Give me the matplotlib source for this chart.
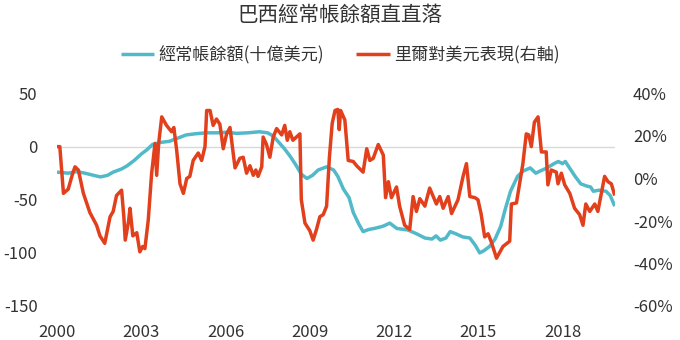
import matplotlib
matplotlib.use("Agg")
import matplotlib.pyplot as plt
from matplotlib.ticker import FuncFormatter

plt.rcParams['font.family'] = ['Noto Sans CJK TC', 'DejaVu Sans']
plt.rcParams['axes.unicode_minus'] = False

TITLE = "巴西經常帳餘額直直落"
LABEL_CA = "經常帳餘額(十億美元)"
LABEL_BRL = "里爾對美元表現(右軸)"

# current account balance, billion USD (left axis)
ca_t = [2000.0, 2000.4, 2000.7, 2001.0, 2001.3, 2001.55, 2001.8, 2002.0, 2002.3, 2002.5,
        2002.75, 2003.0, 2003.2, 2003.4, 2003.7, 2004.0, 2004.3, 2004.6, 2004.9, 2005.3,
        2005.7, 2006.0, 2006.4, 2006.8, 2007.2, 2007.5, 2007.7, 2007.9, 2008.1, 2008.3,
        2008.5, 2008.7, 2008.9, 2009.1, 2009.3, 2009.6, 2009.85, 2010.0, 2010.2, 2010.4,
        2010.55, 2010.75, 2010.9, 2011.1, 2011.3, 2011.6, 2011.85, 2012.1, 2012.5, 2012.8,
        2013.1, 2013.35, 2013.5, 2013.65, 2013.85, 2014.0, 2014.2, 2014.45, 2014.7, 2014.9,
        2015.05, 2015.2, 2015.4, 2015.6, 2015.8, 2015.95, 2016.15, 2016.4, 2016.6, 2016.85,
        2017.05, 2017.2, 2017.45, 2017.7, 2017.85, 2018.0, 2018.1, 2018.25, 2018.45, 2018.65,
        2018.85, 2019.0, 2019.1, 2019.3, 2019.55, 2019.7, 2019.86]
ca_val = [-24, -25, -23.5, -25, -27, -28.5, -27, -24, -21, -18,
          -13, -7, -3, 2, 4, 5, 8, 11, 12, 13,
          13, 13.5, 12.5, 13, 14, 13, 10, 4, -2, -9,
          -17, -26, -30, -27, -22, -19, -22, -28, -40, -48,
          -62, -73, -80, -78, -77, -75, -72, -77, -78.5, -82,
          -86, -87, -84, -88, -86, -80, -82, -85, -86, -93,
          -100, -98, -94, -87, -75, -60, -42, -28, -23, -20,
          -25, -23, -20, -16, -14, -16, -14, -20, -28, -35,
          -37, -38, -42, -41, -42, -46, -56]

# BRL vs USD performance, % (right axis)
brl_t = [2000.0, 2000.1, 2000.23, 2000.4, 2000.55, 2000.64, 2000.76, 2000.94, 2001.17, 2001.29,
         2001.41, 2001.53, 2001.7, 2001.89, 2002.0, 2002.12, 2002.3, 2002.38, 2002.43, 2002.55,
         2002.6, 2002.7, 2002.84, 2002.95, 2003.05, 2003.13, 2003.25, 2003.37, 2003.49, 2003.55,
         2003.62, 2003.73, 2003.9, 2004.08, 2004.16, 2004.26, 2004.38, 2004.5, 2004.62, 2004.73,
         2004.85, 2005.03, 2005.15, 2005.27, 2005.33, 2005.45, 2005.56, 2005.68, 2005.8, 2005.92,
         2006.04, 2006.16, 2006.34, 2006.51, 2006.63, 2006.75, 2006.87, 2006.99, 2007.08, 2007.16,
         2007.29, 2007.34, 2007.46, 2007.58, 2007.7, 2007.82, 2008.0, 2008.11, 2008.2, 2008.29,
         2008.4, 2008.65, 2008.7, 2008.83, 2009.0, 2009.12, 2009.24, 2009.36, 2009.48, 2009.6,
         2009.7, 2009.8, 2009.9, 2010.0, 2010.05, 2010.1, 2010.25, 2010.37, 2010.55, 2010.67,
         2010.9, 2011.03, 2011.14, 2011.26, 2011.44, 2011.62, 2011.7, 2011.8, 2011.91, 2012.09,
         2012.2, 2012.38, 2012.56, 2012.68, 2012.8, 2012.92, 2013.1, 2013.27, 2013.51, 2013.63,
         2013.75, 2013.93, 2014.05, 2014.28, 2014.46, 2014.58, 2014.7, 2014.88, 2014.99, 2015.1,
         2015.23, 2015.35, 2015.47, 2015.65, 2015.88, 2016.12, 2016.18, 2016.36, 2016.59, 2016.71,
         2016.8, 2016.89, 2017.0, 2017.13, 2017.25, 2017.42, 2017.48, 2017.6, 2017.78, 2017.84,
         2017.96, 2018.08, 2018.26, 2018.43, 2018.61, 2018.73, 2018.83, 2018.97, 2019.15, 2019.26,
         2019.5, 2019.62, 2019.74, 2019.86]
brl_pct = [15, 15, -7, -5, 2, 5.5, 4, -7, -16, -19,
           -22, -27, -30.5, -18, -15.5, -8, -5.5, -18, -29, -20,
           -14, -27, -25.5, -34.5, -32, -33, -19.5, 2.5, 16.5, 1.5,
           16.5, 29, 25, 22, 24, 13.5, -2.5, -7, 0, 1,
           8.5, 12, 8.5, 15, 32, 32, 25, 28, 25.5, 14,
           21, 24, 5, 9.5, 10, 2.5, 6, 1.5, 4, 1,
           5.5, 19.5, 16, 10, 19.5, 23.5, 20.5, 25, 18, 22,
           18, 21, -10, -21, -24.5, -29, -24, -18, -17, -13,
           10, 26, 32, 32.5, 23, 32, 27.5, 8.5, 8, 6,
           3, 14, 8.5, 9.5, 16, 11, -9, -1.5, -9, -4,
           -13, -22, -24, -8.5, -15.5, -9.5, -13, -4.5, -12, -8.5,
           -14, -8.5, -16.5, -10, 1, 7, -8.5, -9, -10, -16.5,
           -27.5, -26, -30, -37.5, -32, -29.5, -12, -11.5, 7, 21,
           20.5, 15, 26.5, 29, 12.5, 12.5, -3, 4, 3, -2.5,
           2.5, -3, -7, -14, -17, -22, -12, -15.5, -12, -15.5,
           1, -1.5, -2.5, -8]

years = [2000, 2003, 2006, 2009, 2012, 2015, 2018]

TEAL = "#52b9c9"
RED = "#e2401c"
TXT = "#333333"

fig = plt.figure(figsize=(6.8, 3.4), dpi=100)
ax = fig.add_axes([57 / 680, 1 - 306 / 340, (615 - 57) / 680, (306 - 93.5) / 340])
ax2 = ax.twinx()

ax.axhline(0, color="#d9d9d9", lw=1, zorder=1)
l1, = ax.plot(ca_t, ca_val, color=TEAL, lw=2.5, solid_capstyle="butt", zorder=2)
l2, = ax2.plot(brl_t, brl_pct, color=RED, lw=2.5, solid_capstyle="butt", zorder=3)

ax.set_xlim(2000, 2019.87)
ax.set_ylim(-150, 50)
ax.set_yticks([-150, -100, -50, 0, 50])
ax2.set_ylim(-60, 40)
ax2.set_yticks([-60, -40, -20, 0, 20, 40])
ax2.yaxis.set_major_formatter(FuncFormatter(lambda v, p: f"{v:.0f}%"))
ax.set_xticks(years)
ax.set_xticklabels([str(y) for y in years])

for a in (ax, ax2):
    for s in a.spines.values():
        s.set_visible(False)
    a.tick_params(length=0, labelsize=12, colors=TXT)
ax.tick_params(axis="y", pad=14)
ax.tick_params(axis="x", pad=13)
ax2.tick_params(axis="y", pad=13)

fig.text(0.5, 0.955, TITLE, ha="center", va="center", fontsize=14.8,
         fontweight="medium", color=TXT)
fig.legend([l1, l2], [LABEL_CA, LABEL_BRL], loc="center", bbox_to_anchor=(0.5, 0.838),
           ncol=2, frameon=False, fontsize=12.3, handlelength=1.95, handletextpad=0.25,
           columnspacing=1.9, labelcolor=TXT)

fig.savefig("out.png", dpi=100)
